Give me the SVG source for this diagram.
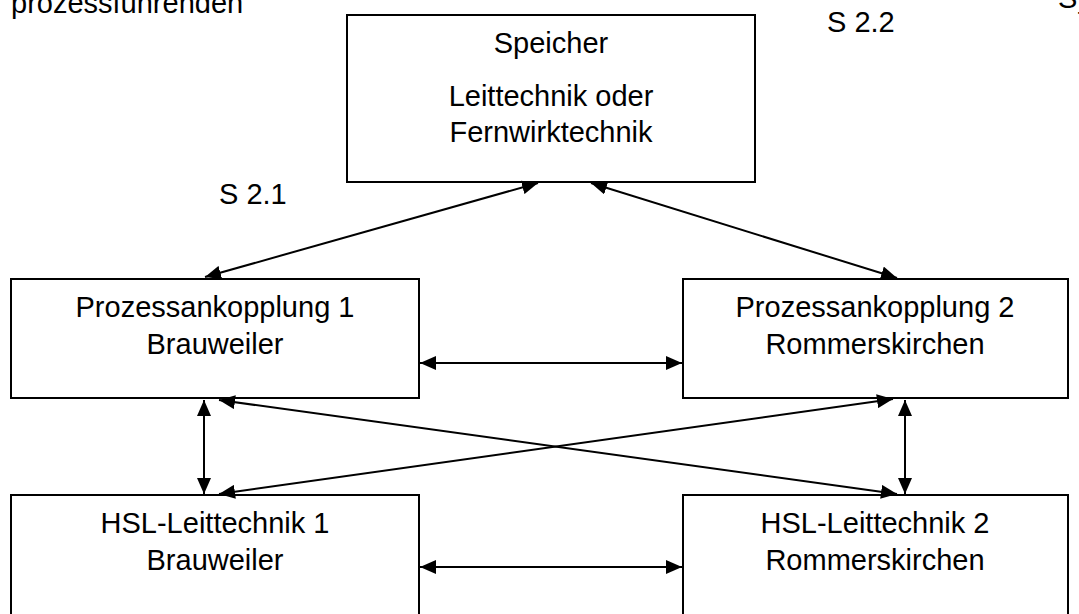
<svg xmlns="http://www.w3.org/2000/svg" width="1079" height="614" viewBox="0 0 1079 614">
<style>
.box{fill:#fff;stroke:#000;stroke-width:2}
.t{font-family:"Liberation Sans",Arial,sans-serif;font-size:29px;fill:#000}
.c{text-anchor:middle}
.ln{stroke:#000;stroke-width:2;fill:none;marker-start:url(#ah);marker-end:url(#ah)}
</style>
<defs>
<marker id="ah" viewBox="0 0 16 14" refX="16" refY="7" markerWidth="16" markerHeight="14" markerUnits="userSpaceOnUse" orient="auto-start-reverse">
<path d="M0,0 L16,7 L0,14 Z" fill="#000"/>
</marker>
</defs>
<rect width="1079" height="614" fill="#fff"/>
<text class="t" x="11" y="13">prozessführenden</text>
<text class="t" x="827" y="32">S 2.2</text>
<text class="t" x="1058" y="8">Sy</text>
<text class="t" x="219" y="204">S 2.1</text>
<g id="speicher">
<rect class="box" x="347" y="15" width="408" height="167"/>
<text class="t c" x="551" y="53">Speicher</text>
<text class="t c" x="551" y="106">Leittechnik oder</text>
<text class="t c" x="551" y="142">Fernwirktechnik</text>
</g>
<g id="pa1">
<rect class="box" x="11" y="279" width="408" height="119"/>
<text class="t c" x="215" y="317">Prozessankopplung 1</text>
<text class="t c" x="215" y="354">Brauweiler</text>
</g>
<g id="pa2">
<rect class="box" x="683" y="279" width="385" height="119"/>
<text class="t c" x="875" y="317">Prozessankopplung 2</text>
<text class="t c" x="875" y="354">Rommerskirchen</text>
</g>
<g id="hsl1">
<rect class="box" x="11" y="495" width="408" height="140"/>
<text class="t c" x="215" y="533">HSL-Leittechnik 1</text>
<text class="t c" x="215" y="570">Brauweiler</text>
</g>
<g id="hsl2">
<rect class="box" x="683" y="495" width="385" height="140"/>
<text class="t c" x="875" y="533">HSL-Leittechnik 2</text>
<text class="t c" x="875" y="570">Rommerskirchen</text>
</g>
<g id="connectors">
<line class="ln" x1="538" y1="183" x2="205" y2="277"/>
<line class="ln" x1="591" y1="183" x2="897" y2="278"/>
<line class="ln" x1="420" y1="363" x2="682" y2="363"/>
<line class="ln" x1="420" y1="567" x2="682" y2="567"/>
<line class="ln" x1="204" y1="400" x2="204" y2="494"/>
<line class="ln" x1="905" y1="400" x2="905" y2="494"/>
<line class="ln" x1="219" y1="400" x2="897" y2="494"/>
<line class="ln" x1="893" y1="399" x2="219" y2="494"/>
</g>
</svg>
